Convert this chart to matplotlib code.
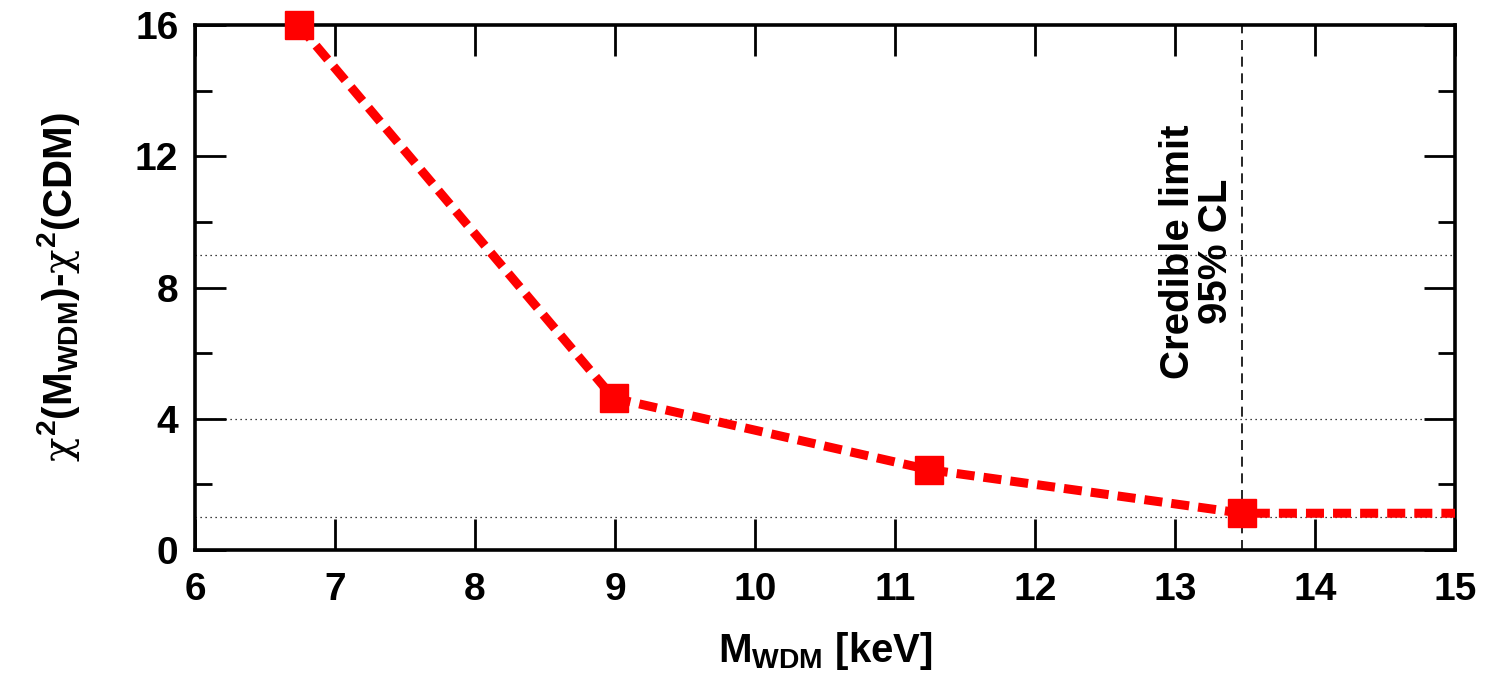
import matplotlib
matplotlib.use('Agg')
import matplotlib.pyplot as plt

plt.rcParams['font.family'] = ['Liberation Sans', 'DejaVu Sans']
plt.rcParams['font.weight'] = 'bold'
plt.rcParams['mathtext.fontset'] = 'custom'
plt.rcParams['mathtext.rm'] = 'Liberation Sans:bold'
plt.rcParams['mathtext.bf'] = 'Liberation Sans:bold'
plt.rcParams['mathtext.it'] = 'DejaVu Serif:weight=normal'
plt.rcParams['mathtext.default'] = 'rm'

# data
m_wdm = [6.74, 8.99, 11.24, 13.48, 15.0]
delta_chi2 = [16.0, 4.63, 2.45, 1.12, 1.12]
marker_x = [6.74, 8.99, 11.24, 13.48]
marker_y = [16.0, 4.63, 2.45, 1.12]
levels = [1, 4, 9]
limit_x = 13.48

fig = plt.figure(figsize=(14.85, 6.8), dpi=100)
ax = fig.add_axes([195 / 1485, 1 - 550 / 680, 1260 / 1485, 525 / 680])

for lv in levels:
    ax.axhline(lv, color='black', lw=0.9, ls=(0, (1, 3)), zorder=1)
ax.axvline(limit_x, color='black', lw=1.2, ls=(0, (6, 4)), zorder=1)

ax.plot(m_wdm, delta_chi2, color='red', lw=6.5, ls=(0, (2.0, 1.0)), zorder=3)
ax.plot(marker_x, marker_y, 's', color='red', ms=20, zorder=5, clip_on=False)

ax.text(13.16, 9.1, 'Credible limit\n95% CL', rotation=90, ha='center',
        va='center', multialignment='center', fontsize=29, fontweight='bold',
        linespacing=1.0)

ax.set_xlim(6, 15)
ax.set_ylim(0, 16)
ax.set_xticks(range(6, 16))
ax.set_yticks([0, 4, 8, 12, 16])
ax.set_yticks([2, 6, 10, 14], minor=True)

ax.tick_params(which='both', direction='in', top=True, right=True, width=2)
ax.tick_params(which='major', length=22, labelsize=28, pad=12)
ax.tick_params(which='minor', length=12)
ax.tick_params(axis='x', pad=16)
for s in ax.spines.values():
    s.set_linewidth(2.6)
for lab in ax.get_xticklabels() + ax.get_yticklabels():
    lab.set_fontweight('bold')

ax.set_xlabel('M$_{\\mathrm{WDM}}$ [keV]', fontsize=29, fontweight='bold', labelpad=16)
ax.set_ylabel('$\\mathit{\\chi}^{\\mathrm{2}}$(M$_{\\mathrm{WDM}}$)-$\\mathit{\\chi}^{\\mathrm{2}}$(CDM)',
              fontsize=29, fontweight='bold', labelpad=38)

fig.savefig('out.png', dpi=100)
